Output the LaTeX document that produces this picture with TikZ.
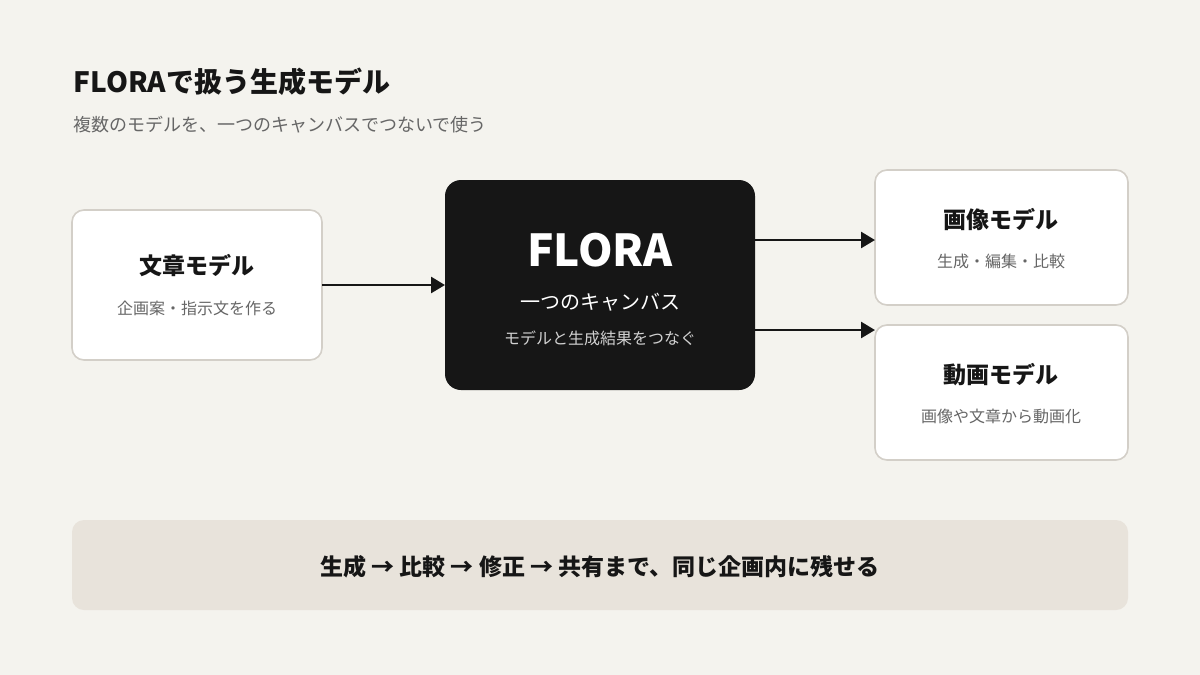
\documentclass[tikz,border=0pt]{standalone}
\usepackage{fontspec}
\setmainfont{Noto Sans CJK JP}
\usetikzlibrary{arrows.meta}
\definecolor{bg}{HTML}{F4F3EE}
\definecolor{bd}{HTML}{D3CFC8}
\definecolor{band}{HTML}{E8E3DB}
\definecolor{ink}{HTML}{161616}
\definecolor{sub}{HTML}{666666}
\begin{document}
\begin{tikzpicture}[x=1pt,y=-1pt,
  card/.style={draw=bd,line width=1.6pt,fill=white,rounded corners=12pt},
  ttl/.style={font=\bfseries\fontsize{23}{27}\selectfont,text=ink},
  st/.style={font=\fontsize{16}{19}\selectfont,text=sub},
  arr/.style={draw=ink,line width=2.6pt,-{Triangle[length=14pt,width=16pt]}}]
\useasboundingbox (0,0) rectangle (1200,675);
\fill[bg] (0,0) rectangle (1200,675);
\node[anchor=west,font=\bfseries\fontsize{28}{32}\selectfont,text=ink] (title) at (70,82) {FLORAで扱う生成モデル};
\node[anchor=west,font=\fontsize{18}{21}\selectfont,text=sub] (subt) at (70,125) {複数のモデルを、一つのキャンバスでつないで使う};
% left
\path[card] (72,210) rectangle (322,360);
\node[ttl] (lt) at (197,266) {文章モデル};
\node[st] (ls) at (197,308) {企画案・指示文を作る};
% center
\fill[ink,rounded corners=16pt] (445,180) rectangle (755,390);
\node[font=\bfseries\fontsize{44}{50}\selectfont,text=white] (ct) at (600,250) {FLORA};
\node[font=\fontsize{20}{24}\selectfont,text=white] (cs) at (600,302) {一つのキャンバス};
\node[font=\fontsize{16}{19}\selectfont,text=white!82!black] (cs2) at (600,338) {モデルと生成結果をつなぐ};
% right
\path[card] (875,170) rectangle (1128,305);
\node[ttl] (rt1) at (1001,220) {画像モデル};
\node[st] (rs1) at (1001,261) {生成・編集・比較};
\path[card] (875,325) rectangle (1128,460);
\node[ttl] (rt2) at (1001,375) {動画モデル};
\node[st] (rs2) at (1001,416) {画像や文章から動画化};
% connectors
\coordinate (a1) at (322,285); \coordinate (a2) at (445,285);
\coordinate (b1) at (755,240); \coordinate (b2) at (875,240);
\coordinate (c1) at (755,330); \coordinate (c2) at (875,330);
\draw[arr] (a1) -- (a2);
\draw[arr] (b1) -- (b2);
\draw[arr] (c1) -- (c2);
% band
\fill[band,rounded corners=12pt] (72,520) rectangle (1128,610);
\node[font=\bfseries\fontsize{23}{27}\selectfont,text=ink] (bt) at (600,567) {生成 → 比較 → 修正 → 共有まで、同じ企画内に残せる};
\end{tikzpicture}
\end{document}
